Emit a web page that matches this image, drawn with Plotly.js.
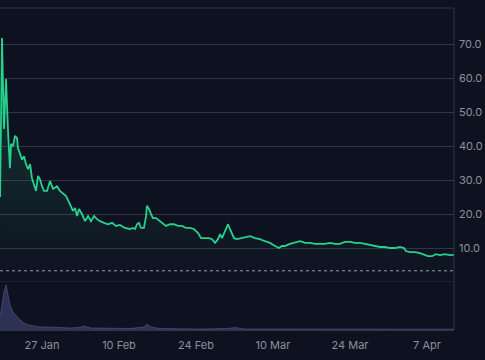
<!DOCTYPE html>
<html>
<head>
<meta charset="utf-8">
<script src="https://cdn.plot.ly/plotly-3.0.1.min.js"></script>
<style>html,body{margin:0;padding:0;background:#0e1220;}#chart{width:485px;height:360px;}</style>
</head>
<body>
<div id="chart"></div>
<script>
const priceDates = [
"2025-01-19 09:00","2025-01-19 13:00","2025-01-19 17:30","2025-01-20 02:00","2025-01-20 11:00","2025-01-20 20:00",
"2025-01-21 04:00","2025-01-21 09:00","2025-01-21 17:30","2025-01-22 02:00","2025-01-22 11:00","2025-01-22 15:00",
"2025-01-23 00:00","2025-01-23 09:00","2025-01-23 17:30","2025-01-24 02:00","2025-01-24 11:00","2025-01-24 20:00",
"2025-01-25 04:00","2025-01-25 13:00","2025-01-25 22:00","2025-01-26 06:30","2025-01-26 15:00","2025-01-27 00:00",
"2025-01-27 09:00","2025-01-27 22:00","2025-01-28 11:00","2025-01-29 00:00","2025-01-29 17:30","2025-01-30 06:30",
"2025-01-30 20:00","2025-01-31 09:00","2025-02-01 02:00","2025-02-01 15:00","2025-02-02 00:00","2025-02-02 09:00",
"2025-02-02 17:30","2025-02-03 06:30","2025-02-03 20:00","2025-02-04 09:00","2025-02-04 22:00","2025-02-05 11:00",
"2025-02-06 00:00","2025-02-06 13:00","2025-02-07 06:30","2025-02-08 00:00","2025-02-08 17:30","2025-02-09 11:00",
"2025-02-10 04:00","2025-02-11 02:00","2025-02-12 00:00","2025-02-12 13:00","2025-02-12 22:00","2025-02-13 06:30",
"2025-02-13 15:00","2025-02-14 00:00","2025-02-14 13:00","2025-02-14 22:00","2025-02-15 02:00","2025-02-15 11:00",
"2025-02-15 20:00","2025-02-16 04:00","2025-02-16 17:30","2025-02-17 11:00","2025-02-18 00:00","2025-02-18 13:00",
"2025-02-19 06:30","2025-02-20 00:00","2025-02-20 17:30","2025-02-21 11:00","2025-02-22 04:00","2025-02-22 22:00",
"2025-02-23 15:00","2025-02-24 09:00","2025-02-24 22:00","2025-02-25 15:00","2025-02-26 09:00","2025-02-26 22:00",
"2025-02-27 11:00","2025-02-28 00:00","2025-02-28 09:00","2025-02-28 17:30","2025-03-01 02:00","2025-03-01 11:00",
"2025-03-01 20:00","2025-03-02 04:00","2025-03-02 13:00","2025-03-02 22:00","2025-03-03 11:00","2025-03-04 04:00",
"2025-03-04 22:00","2025-03-05 20:00","2025-03-06 17:30","2025-03-07 15:00","2025-03-08 13:00","2025-03-09 11:00",
"2025-03-10 09:00","2025-03-11 02:00","2025-03-11 15:00","2025-03-12 04:00","2025-03-13 02:00","2025-03-14 00:00",
"2025-03-14 22:00","2025-03-15 20:00","2025-03-16 17:30","2025-03-17 15:00","2025-03-18 13:00","2025-03-19 11:00",
"2025-03-20 09:00","2025-03-21 06:30","2025-03-22 04:00","2025-03-23 02:00","2025-03-24 00:00","2025-03-24 22:00",
"2025-03-25 20:00","2025-03-26 17:30","2025-03-27 15:00","2025-03-28 13:00","2025-03-29 11:00","2025-03-30 09:00",
"2025-03-31 06:30","2025-04-01 04:00","2025-04-02 02:00","2025-04-02 20:00","2025-04-03 04:00","2025-04-03 22:00",
"2025-04-04 20:00","2025-04-05 17:30","2025-04-06 15:00","2025-04-07 04:00","2025-04-07 22:00","2025-04-08 15:00",
"2025-04-09 09:00","2025-04-10 06:30","2025-04-11 04:00","2025-04-11 22:00"
];
const priceValues = [
25.0,48.0,71.8,45.0,59.7,44.0,
33.5,40.6,40.0,43.0,42.3,39.4,
37.6,36.0,37.0,34.7,33.2,34.7,
30.6,28.8,26.8,31.2,30.3,28.2,
26.8,26.8,29.7,27.4,28.2,26.8,
25.9,25.3,22.9,20.9,21.8,19.4,
21.5,20.0,17.9,19.4,17.9,19.4,
18.5,17.9,17.4,17.0,17.4,16.5,
16.8,15.9,15.6,15.9,15.6,17.0,
17.4,15.9,15.9,19.4,22.4,21.5,
20.0,18.8,18.8,17.9,17.4,16.5,
17.0,17.0,16.5,16.5,15.9,15.9,
15.6,14.4,12.9,12.9,12.9,12.6,
11.5,12.6,14.1,12.9,14.1,15.6,
17.0,15.6,14.1,12.9,12.6,12.9,
13.2,13.5,12.9,12.6,12.0,11.5,
10.6,10.0,10.6,10.6,11.2,11.5,
12.0,11.5,11.5,11.2,11.2,11.2,
11.5,11.2,11.2,11.8,11.8,11.5,
11.5,11.2,10.9,10.6,10.3,10.3,
10.0,10.0,10.3,10.0,9.1,8.8,
8.8,8.5,7.9,7.6,7.6,8.2,
7.9,8.2,7.9,8.0
];
const volumeDates = [
"2025-01-19 09:00","2025-01-19 17:30","2025-01-20 02:00","2025-01-20 11:00","2025-01-20 20:00","2025-01-21 04:00",
"2025-01-21 17:30","2025-01-22 11:00","2025-01-23 00:00","2025-01-23 17:30","2025-01-24 11:00","2025-01-25 13:00",
"2025-01-26 15:00","2025-01-28 11:00","2025-01-30 06:30","2025-02-01 02:00","2025-02-02 17:30","2025-02-03 15:00",
"2025-02-04 22:00","2025-02-08 17:30","2025-02-12 00:00","2025-02-14 13:00","2025-02-15 02:00","2025-02-15 20:00",
"2025-02-17 11:00","2025-02-24 09:00","2025-03-01 20:00","2025-03-03 00:00","2025-03-04 22:00","2025-03-14 22:00",
"2025-04-02 02:00","2025-04-11 22:00"
];
const volumeValues = [
13,25,38,45,34,25,
18,13,10,7,5,4,
3,3,2.5,2,2.5,4,
2,1.5,1.5,3,6,3,
1.5,1,1.5,2.5,1,1,
0.8,0.8
];
const priceTicks = [0,10,20,30,40,50,60,70];
const priceTickText = ["","10.0","20.0","30.0","40.0","50.0","60.0","70.0"];
const dateTicks = ["2025-01-27","2025-02-10","2025-02-24","2025-03-10","2025-03-24","2025-04-07"];
const dateTickText = ["27 Jan","10 Feb","24 Feb","10 Mar","24 Mar","7 Apr"];
const refLevel = 3.3;

const gridC = "rgba(60,66,84,0.75)";
const textC = "#8b909e";

const traces = [
  {
    x: priceDates, y: priceValues, type: "scatter", mode: "lines",
    line: {color: "#27d08c", width: 1.8}, fill: "tozeroy",
    fillgradient: {type: "vertical", colorscale: [[0, "rgba(39,208,140,0.0)"], [1, "rgba(39,208,140,0.22)"]]},
    xaxis: "x", yaxis: "y", hoverinfo: "x+y"
  },
  {
    x: volumeDates, y: volumeValues, type: "scatter", mode: "lines",
    line: {color: "rgba(95,102,160,0.5)", width: 1}, fill: "tozeroy",
    fillcolor: "rgba(66,72,120,0.6)", xaxis: "x", yaxis: "y2", hoverinfo: "x+y"
  }
];

const layout = {
  width: 485, height: 360,
  margin: {l: 0, r: 31, t: 8, b: 30},
  paper_bgcolor: "#0e1220", plot_bgcolor: "#0e1220",
  showlegend: false,
  font: {family: "Inter, 'Noto Sans', sans-serif", size: 11, color: textC},
  xaxis: {
    type: "date", range: ["2025-01-19 08:40", "2025-04-11 22:00"],
    tickvals: dateTicks, ticktext: dateTickText,
    showgrid: false, zeroline: false, showline: true, linecolor: gridC, linewidth: 1,
    anchor: "y2", ticks: "", tickfont: {size: 11, color: textC}, ticklabelstandoff: 5
  },
  yaxis: {
    domain: [0.149, 1], range: [0, 80.6], side: "right",
    tickvals: priceTicks, ticktext: priceTickText,
    showgrid: true, gridcolor: gridC, gridwidth: 1, zeroline: false,
    ticks: "", tickfont: {size: 11, color: textC}, ticklabelstandoff: 4
  },
  yaxis2: {
    domain: [0, 0.149], range: [0, 48], side: "right",
    showgrid: false, zeroline: false, showticklabels: false, ticks: ""
  },
  shapes: [
    {type: "line", xref: "paper", yref: "y", x0: 0, x1: 1, y0: 0, y1: 0,
     line: {color: gridC, width: 1}},
    {type: "line", xref: "paper", yref: "y", x0: 0, x1: 1, y0: refLevel, y1: refLevel,
     line: {color: "rgba(200,204,214,0.75)", width: 1, dash: "dot"}},
    {type: "line", xref: "paper", yref: "paper", x0: 1, x1: 1, y0: 0, y1: 1,
     line: {color: gridC, width: 1}},
    {type: "line", xref: "paper", yref: "paper", x0: 0, x1: 1, y0: 1, y1: 1,
     line: {color: gridC, width: 1}}
  ]
};

Plotly.newPlot("chart", traces, layout, {displayModeBar: false, staticPlot: true});
</script>
</body>
</html>
